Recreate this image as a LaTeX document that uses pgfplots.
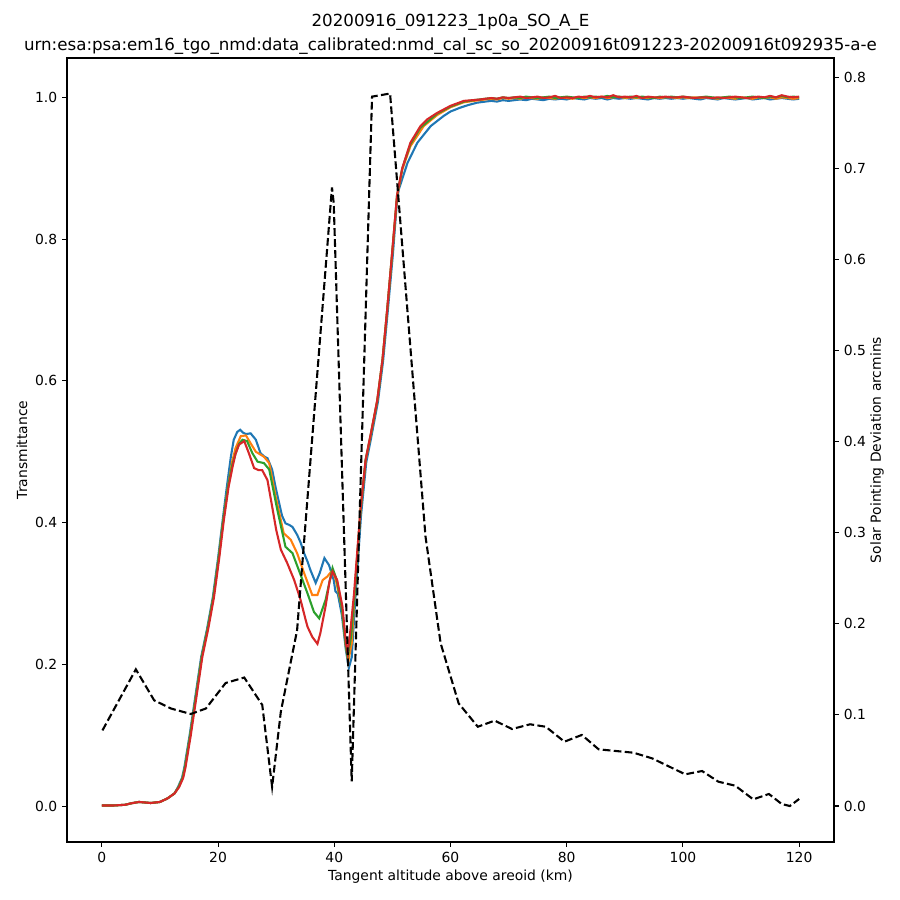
\documentclass[border=0pt]{standalone}
\usepackage{fontspec}
\setmainfont{DejaVu Sans}
\usepackage{pgfplots}
\pgfplotsset{compat=1.18}
\definecolor{tabblue}{HTML}{1F77B4}
\definecolor{taborange}{HTML}{FF7F0E}
\definecolor{tabgreen}{HTML}{2CA02C}
\definecolor{tabred}{HTML}{D62728}
\pgfplotsset{
  common/.style={
    at={(0,0)}, anchor=south west, scale only axis,
    width=552.24pt, height=564.48pt,
    xmin=-6, xmax=126,
    tick align=outside, major tick length=3.5pt,
    every tick/.style={black, line width=0.8pt},
    axis line style={line width=0.8pt},
    tick label style={font=\fontsize{10}{12}\selectfont},
    label style={font=\fontsize{10}{12}\selectfont},
    /pgf/number format/assume math mode=true,
    yticklabel style={/pgf/number format/.cd, fixed, fixed zerofill, precision=1},
  }
}
\begin{document}
\begin{tikzpicture}
\path[use as bounding box] (-48.24pt,-41.76pt) rectangle (599.76pt,606.24pt);
\begin{axis}[common,
  ymin=-0.0505, ymax=1.0555,
  xtick={0,20,...,120}, ytick={0,0.2,...,1.0},
  xtick pos=bottom, ytick pos=left,
  xlabel={Tangent altitude above areoid (km)},
  ylabel={Transmittance},
  every axis x label/.style={at={(axis description cs:0.5,0)}, anchor=center, yshift=-25.2pt},
  every axis y label/.style={at={(axis description cs:-0.0587,0.5)}, anchor=center, rotate=90},
  title={20200916\_091223\_1p0a\_SO\_A\_E\\[2.1pt]urn:esa:psa:em16\_tgo\_nmd:data\_calibrated:nmd\_cal\_sc\_so\_20200916t091223-20200916t092935-a-e},
  title style={font=\fontsize{12}{15.5}\selectfont, align=center, at={(axis description cs:0.5,1)}, anchor=south, yshift=-3.8pt, inner sep=0pt},
]
% blue
\addplot[tabblue, line width=1.5pt] table {
0 0.001
2 0.001
4 0.002
5 0.004
6.4 0.006
8.4 0.0045
10 0.006
11.3 0.011
12.5 0.018
13.1 0.027
13.8 0.040
14.2 0.055
15.1 0.100
16.0 0.150
17.1 0.211
18.1 0.250
19.1 0.295
20.0 0.350
20.8 0.404
21.5 0.450
22.2 0.493
22.7 0.517
23.3 0.528
23.8 0.531
24.3 0.527
24.8 0.525
25.6 0.526
26.5 0.517
27.3 0.498
28.0 0.493
28.5 0.491
29.3 0.475
29.9 0.450
30.5 0.428
31.0 0.410
31.6 0.399
32.2 0.397
32.8 0.394
33.6 0.383
34.2 0.372
34.8 0.357
35.4 0.345
35.9 0.333
36.8 0.315
37.5 0.329
38.3 0.350
39.1 0.340
39.9 0.319
40.2 0.303
40.6 0.300
41.3 0.270
42.0 0.220
42.5 0.195
43.0 0.210
43.6 0.290
44.6 0.410
45.5 0.485
46.3 0.518
47.5 0.570
48.4 0.628
49.2 0.698
50.1 0.780
50.8 0.855
51.1 0.870
52.6 0.9075
54.3 0.936
56.6 0.9595
58.8 0.9736
60.0 0.980
61.7 0.9855
63.0 0.989
64.6 0.9925
66 0.994
67 0.995
68 0.994
69 0.996
70 0.995
71 0.996
72 0.997
73 0.996
74 0.998
75 0.997
76 0.996
77 0.998
78 0.997
79 0.998
80 0.997
81 0.999
82 0.998
83 0.997
84 0.999
85 0.998
86 0.999
87 0.997
88 0.999
89 0.998
90 0.999
91 0.998
92 0.999
93 0.998
94 0.997
95 0.999
96 0.998
97 0.999
98 0.998
99 0.999
100 0.998
101 0.999
102 0.998
103 0.997
104 0.999
105 0.998
106 0.997
107 0.999
108 0.998
109 0.997
110 0.998
111 0.999
112 0.997
113 0.998
114 0.999
115 0.997
116 0.998
117 0.999
118 0.998
119 0.997
120 0.998
};
% orange
\addplot[taborange, line width=1.5pt] table {
0 0.001
2 0.001
4 0.002
5 0.004
6.4 0.006
8.4 0.0045
10 0.006
11.3 0.011
12.5 0.018
13.2 0.027
13.9 0.040
14.3 0.055
15.2 0.100
16.1 0.150
17.2 0.211
18.2 0.250
19.2 0.295
20.1 0.350
20.9 0.404
21.7 0.450
22.4 0.485
23.0 0.505
23.9 0.522
24.8 0.523
25.6 0.512
26.5 0.500
27.9 0.493
28.8 0.484
29.9 0.437
31.3 0.385
32.5 0.376
33.6 0.357
34.8 0.329
36.2 0.298
37.1 0.298
38.0 0.319
38.8 0.324
39.7 0.333
40.3 0.318
41.3 0.280
42.0 0.225
42.4 0.204
43.0 0.230
43.5 0.300
44.5 0.415
45.4 0.488
46.2 0.520
47.4 0.572
48.3 0.630
49.1 0.700
50.0 0.783
50.8 0.860
51.7 0.898
53.1 0.931
55.4 0.9595
57.7 0.975
60.0 0.986
62.3 0.993
64.0 0.995
66 0.997
67 0.998
68 0.997
69 0.999
70 0.998
71 0.999
72 0.998
73 1.000
74 0.999
75 0.998
76 1.000
77 0.999
78 0.998
79 1.000
80 0.999
81 0.998
82 1.000
83 0.999
84 1.000
85 0.999
86 1.001
87 0.999
88 1.000
89 1.001
90 0.999
91 1.000
92 0.999
93 1.000
94 0.999
95 1.000
96 0.999
97 1.000
98 1.000
99 0.999
100 1.000
101 0.999
102 1.000
103 0.999
104 1.000
105 0.999
106 0.998
107 1.000
108 0.999
109 0.998
110 1.000
111 0.999
112 0.998
113 1.000
114 0.999
115 1.000
116 0.998
117 1.000
118 0.999
119 0.998
120 0.999
};
% green
\addplot[tabgreen, line width=1.5pt] table {
0 0.001
2 0.001
4 0.002
5 0.004
6.4 0.006
8.4 0.0045
10 0.006
11.3 0.011
12.5 0.018
13.2 0.027
13.9 0.040
14.3 0.055
15.2 0.100
16.1 0.150
17.2 0.211
18.2 0.250
19.2 0.295
20.1 0.350
20.9 0.404
21.7 0.450
22.4 0.480
23.0 0.497
23.6 0.511
24.2 0.517
25.0 0.515
25.9 0.498
26.8 0.486
27.9 0.484
28.8 0.475
30.2 0.418
31.6 0.366
32.8 0.357
33.9 0.333
35.4 0.300
36.5 0.274
37.4 0.265
38.5 0.291
39.7 0.336
40.4 0.320
41.3 0.280
42.0 0.225
42.3 0.210
42.9 0.240
43.5 0.300
44.5 0.416
45.4 0.489
46.2 0.521
47.4 0.572
48.3 0.630
49.1 0.700
50.0 0.784
50.8 0.861
51.7 0.900
53.1 0.934
54.8 0.957
57.7 0.977
60.0 0.987
62.3 0.994
64.0 0.996
66 0.998
67 0.999
68 0.998
69 1.000
70 0.999
71 1.000
72 0.999
73 1.001
74 1.000
75 0.999
76 1.000
77 1.001
78 0.999
79 1.000
80 1.001
81 1.000
82 0.999
83 1.001
84 1.000
85 1.001
86 1.000
87 1.002
88 1.000
89 1.001
90 1.000
91 1.001
92 1.000
93 1.001
94 1.000
95 0.999
96 1.001
97 1.000
98 1.001
99 1.000
100 1.001
101 1.000
102 0.999
103 1.000
104 1.001
105 1.000
106 0.999
107 1.000
108 1.001
109 1.000
110 0.999
111 1.000
112 1.001
113 1.000
114 0.999
115 1.001
116 1.000
117 1.002
118 1.000
119 1.001
120 1.000
};
% red
\addplot[tabred, line width=1.5pt] table {
0 0.001
2 0.001
4 0.002
5 0.004
6.4 0.006
8.4 0.0045
10 0.006
11.3 0.011
12.5 0.018
13.3 0.027
14.0 0.040
14.4 0.055
15.3 0.100
16.2 0.150
17.3 0.211
18.3 0.250
19.3 0.295
20.2 0.350
21.0 0.404
21.8 0.450
22.5 0.479
23.0 0.497
23.6 0.510
24.5 0.515
25.3 0.498
26.2 0.477
27.0 0.474
27.6 0.474
28.5 0.460
29.3 0.423
30.0 0.390
30.8 0.362
31.9 0.343
33.1 0.319
34.2 0.291
35.0 0.265
35.4 0.253
36.2 0.239
37.1 0.229
37.6 0.244
38.5 0.282
39.2 0.318
39.7 0.331
40.5 0.319
41.4 0.282
42.0 0.230
42.3 0.215
42.8 0.250
43.4 0.300
44.5 0.418
45.4 0.489
46.2 0.522
47.4 0.573
48.3 0.630
49.1 0.700
50.0 0.785
50.8 0.862
51.7 0.900
53.1 0.936
54.8 0.959
56.0 0.969
57.7 0.978
60.0 0.988
62.3 0.995
65.2 0.997
66 0.998
67 0.999
68 0.998
69 1.000
70 0.999
71 1.000
72 1.001
73 0.999
74 1.000
75 1.001
76 0.999
77 1.000
78 1.002
79 0.999
80 1.000
81 0.999
82 1.001
83 1.000
84 1.002
85 1.000
86 1.001
87 1.000
88 1.003
89 1.000
90 1.001
91 1.000
92 1.002
93 0.999
94 1.001
95 1.000
96 1.000
97 1.001
98 1.000
99 1.000
100 1.001
101 1.000
102 0.999
103 1.000
104 1.000
105 0.999
106 1.000
107 0.999
108 1.000
109 1.001
110 1.000
111 0.999
112 1.000
113 1.001
114 1.000
115 1.002
116 1.000
117 1.003
118 1.001
119 1.000
120 1.001
};
\end{axis}
\begin{axis}[common,
  ymin=-0.0395, ymax=0.821,
  axis x line=none, axis y line*=right,
  ytick={0,0.1,...,0.8}, ytick pos=right,
  ylabel={Solar Pointing Deviation arcmins},
  every axis y label/.style={at={(axis description cs:1.0561,0.5)}, anchor=center, rotate=90},
]
\addplot[black, line width=1.5pt, dash pattern=on 5.55pt off 2.4pt] table {
0.1 0.083
5.85 0.150
9.0 0.116
11.9 0.107
15.3 0.101
17.9 0.107
21.3 0.135
24.5 0.141
27.6 0.111
29.3 0.021
30.8 0.1035
33.6 0.193
39.6 0.679
39.9 0.662
43.0 0.027
46.5 0.7786
49.6 0.782
55.7 0.2957
58.3 0.1786
61.4 0.1127
64.7 0.087
67.6 0.0937
70.6 0.0845
73.7 0.0897
76.4 0.087
79.6 0.0706
82.6 0.078
85.5 0.0622
91.5 0.0585
94.7 0.0523
100.4 0.0348
103.3 0.0384
106.1 0.0267
109.0 0.0223
112.1 0.0073
114.8 0.0132
117.0 0.0022
118.4 0.0
120 0.0077
};
\end{axis}
\end{tikzpicture}
\end{document}
